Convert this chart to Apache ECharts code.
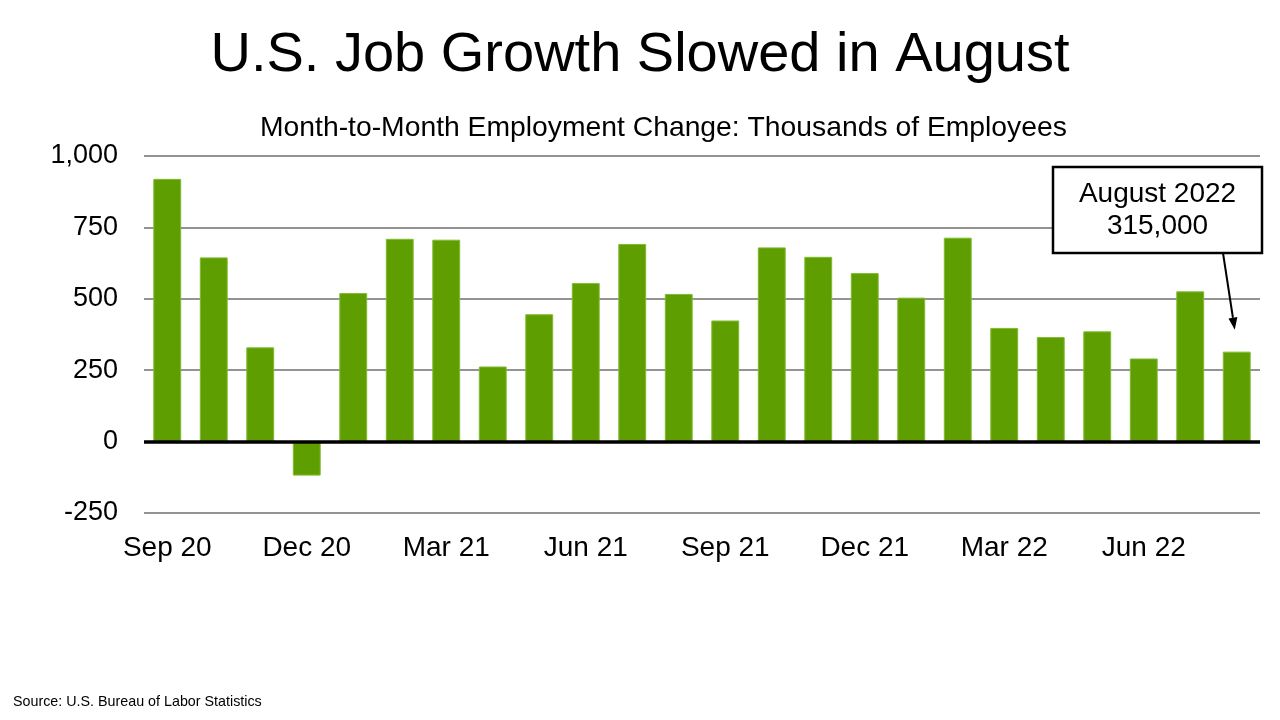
<!DOCTYPE html>
<html>
<head>
<meta charset="utf-8">
<script src="https://cdn.jsdelivr.net/npm/echarts@6/dist/echarts.min.js"></script>
<style>
html,body{margin:0;padding:0;background:#fff;}
#chart{width:1280px;height:720px;}
</style>
</head>
<body>
<div id="chart"></div>
<script>
const categories = ['Sep 20','Oct 20','Nov 20','Dec 20','Jan 21','Feb 21','Mar 21','Apr 21','May 21','Jun 21','Jul 21','Aug 21','Sep 21','Oct 21','Nov 21','Dec 21','Jan 22','Feb 22','Mar 22','Apr 22','May 22','Jun 22','Jul 22','Aug 22'];
const changes = [920, 645, 330, -119, 520, 710, 707, 263, 446, 555, 692, 517, 424, 680, 647, 590, 504, 714, 398, 366, 386, 291, 526, 315];
const yTicks = [-250, 0, 250, 500, 750, 1000];
const titleText = 'U.S. Job Growth Slowed in August';
const subtitleText = 'Month-to-Month Employment Change: Thousands of Employees';
const sourceText = 'Source: U.S. Bureau of Labor Statistics';
const noteLines = ['August 2022', '315,000'];

const FONT = '"Liberation Sans", Arial, sans-serif';
const chart = echarts.init(document.getElementById('chart'));

const option = {
  backgroundColor: '#ffffff',
  animation: false,
  textStyle: { fontFamily: FONT },
  title: [
    { text: titleText, left: 'center', top: 23, textStyle: { fontFamily: FONT, fontSize: 56, fontWeight: 'normal', color: '#000' } },
    { text: subtitleText, left: 260, top: 114, padding: 0, textStyle: { fontFamily: FONT, fontSize: 28.3, fontWeight: 'normal', color: '#000' } },
    { text: sourceText, left: 13, top: 695, padding: 0, textStyle: { fontFamily: FONT, fontSize: 14.3, fontWeight: 'normal', color: '#000' } }
  ],
  grid: { left: 144, right: 20, top: 156, bottom: 207, containLabel: false },
  xAxis: {
    type: 'category',
    data: categories,
    axisLine: { show: false, onZero: false },
    axisTick: { show: false },
    axisLabel: { interval: 2, fontFamily: FONT, fontSize: 28, color: '#000', margin: 21 }
  },
  yAxis: {
    type: 'value',
    min: yTicks[0],
    max: yTicks[yTicks.length - 1],
    interval: 250,
    axisLine: { show: false },
    axisTick: { show: false },
    splitLine: { lineStyle: { color: '#6f6f6f', width: 1.5 } },
    axisLabel: {
      fontFamily: FONT, fontSize: 27, color: '#000', margin: 26,
      formatter: v => v.toLocaleString('en-US')
    }
  },
  series: [{
    type: 'bar',
    data: changes,
    barCategoryGap: '40%',
    itemStyle: { color: '#5f9e00', borderColor: '#80bb30', borderWidth: 1 },
    markLine: {
      silent: true,
      symbol: 'none',
      label: { show: false },
      lineStyle: { color: '#000', width: 3.5, type: 'solid' },
      data: [{ yAxis: 0 }]
    }
  }]
};
chart.setOption(option);

// annotation box + arrow pointing at last bar
const lastIdx = changes.length - 1;
const barTop = chart.convertToPixel({ gridIndex: 0 }, [categories[lastIdx], changes[lastIdx]]);
const tipX = barTop[0] - 2;
const tipY = barTop[1] - 22;
const startX = 1223, startY = 253;
const ang = Math.atan2(tipY - startY, tipX - startX);
const hl = 12, hw = 4.5;
const bx = tipX - hl * Math.cos(ang), by = tipY - hl * Math.sin(ang);
const px = -Math.sin(ang) * hw, py = Math.cos(ang) * hw;

chart.setOption({
  graphic: [
    { type: 'rect', shape: { x: 1053, y: 167, width: 209, height: 86 }, style: { fill: '#fff', stroke: '#000', lineWidth: 2.5 }, z: 100 },
    { type: 'text', x: 1157.5, y: 194, style: { text: noteLines[0], font: '28px ' + FONT, fill: '#000', align: 'center', verticalAlign: 'middle' }, z: 101 },
    { type: 'text', x: 1157.5, y: 226, style: { text: noteLines[1], font: '28px ' + FONT, fill: '#000', align: 'center', verticalAlign: 'middle' }, z: 101 },
    { type: 'line', shape: { x1: startX, y1: startY, x2: bx, y2: by }, style: { stroke: '#000', lineWidth: 2 }, z: 100 },
    { type: 'polygon', shape: { points: [[tipX, tipY], [bx + px, by + py], [bx - px, by - py]] }, style: { fill: '#000' }, z: 100 }
  ]
});
</script>
</body>
</html>
